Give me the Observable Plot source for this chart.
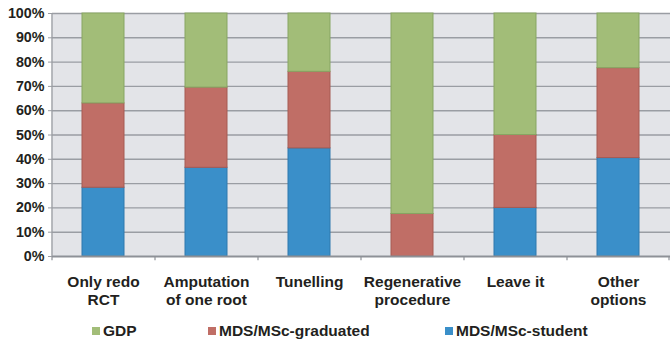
<!DOCTYPE html>
<html>
<head>
<meta charset="utf-8">
<script src="https://cdn.jsdelivr.net/npm/d3@7"></script>
<script src="https://cdn.jsdelivr.net/npm/@observablehq/plot@0.6"></script>
<style>
  html, body { margin: 0; padding: 0; background: #fff; }
  #wrap { width: 670px; font-family: "Liberation Sans", Arial, sans-serif; }
  svg text { font-weight: bold; }
  #legend { position: relative; width: 670px; height: 27px; font-weight: bold; font-size: 15.5px; color: #231f20; }
  .sw { position: absolute; width: 8px; height: 8px; top: 11px; }
  .lt { position: absolute; top: 6px; line-height: 18px; white-space: nowrap; }
</style>
</head>
<body>
<div id="wrap"></div>
<script>
const categories = ["Only redo\nRCT", "Amputation\nof one root", "Tunelling", "Regenerative\nprocedure", "Leave it", "Other\noptions"];
const seriesNames = ["MDS/MSc-student", "MDS/MSc-graduated", "GDP"];
const student   = [28.3, 36.5, 44.5, 0, 20, 40.5];
const graduated = [34.7, 33.0, 31.5, 17.5, 30, 37.0];
const gdp       = [37.0, 30.5, 24.0, 82.5, 50, 22.5];
const yTicks = [0, 10, 20, 30, 40, 50, 60, 70, 80, 90, 100];
const fills   = ["#3a8fc9", "#c06e66", "#a2bd78"];
const strokes = ["#2f78ad", "#a65a53", "#87a562"];

const valuesBySeries = [student, graduated, gdp];
const data = [];
seriesNames.forEach((s, si) => {
  categories.forEach((c, ci) => data.push({category: c, series: s, value: valuesBySeries[si][ci], order: si}));
});

const step = (670 - 52) / categories.length;

const chart = Plot.plot({
  width: 670,
  height: 316,
  marginLeft: 52,
  marginRight: 0,
  marginTop: 13,
  marginBottom: 60,
  style: {fontFamily: "Liberation Sans, Arial, sans-serif", background: "#fff", overflow: "visible"},
  x: {domain: categories, paddingInner: 0.592, paddingOuter: 0.296, axis: null},
  y: {domain: [0, 100], axis: null},
  color: {domain: seriesNames, range: fills},
  marks: [
    Plot.frame({fill: "#e3e4e8", stroke: null}),
    Plot.ruleY(yTicks.filter(d => d > 0), {stroke: "#9a9da3", strokeWidth: 1.4}),
    Plot.barY(data, Plot.stackY({
      x: "category", y: "value", fill: "series", order: seriesNames,
      stroke: d => strokes[d.order], strokeWidth: 1, inset: 0
    })),
    Plot.ruleY([0], {stroke: "#8e9197", strokeWidth: 2}),
    Plot.ruleX([categories[0]], {y1: 0, y2: 100, dx: -step / 2, stroke: "#9a9da3", strokeWidth: 1.4}),
    Plot.ruleX(categories, {y1: 0, y2: -1.8, dx: -step / 2, stroke: "#8e9197", strokeWidth: 1.2}),
    Plot.ruleX([categories[categories.length - 1]], {y1: 0, y2: -1.8, dx: step / 2 - 1, stroke: "#8e9197", strokeWidth: 1.2}),
    Plot.axisY({ticks: yTicks, tickFormat: d => d + "%", tickSize: 4, tickPadding: 4, fontSize: 14.3, stroke: "#9a9da3", fill: "#231f20", label: null}),
    Plot.axisX({tickSize: 0, tickPadding: 18, fontSize: 15.5, lineHeight: 1.135, fill: "#231f20", label: null})
  ]
});
document.getElementById("wrap").appendChild(chart);

const legend = document.createElement("div");
legend.id = "legend";
const legendItems = [
  {name: "GDP", color: fills[2], x: 92},
  {name: "MDS/MSc-graduated", color: fills[1], x: 208},
  {name: "MDS/MSc-student", color: fills[0], x: 445}
];
legendItems.forEach(it => {
  const sw = document.createElement("div");
  sw.className = "sw"; sw.style.left = it.x + "px"; sw.style.background = it.color;
  const t = document.createElement("div");
  t.className = "lt"; t.style.left = (it.x + 11) + "px"; t.textContent = it.name;
  legend.appendChild(sw); legend.appendChild(t);
});
document.getElementById("wrap").appendChild(legend);
</script>
</body>
</html>
